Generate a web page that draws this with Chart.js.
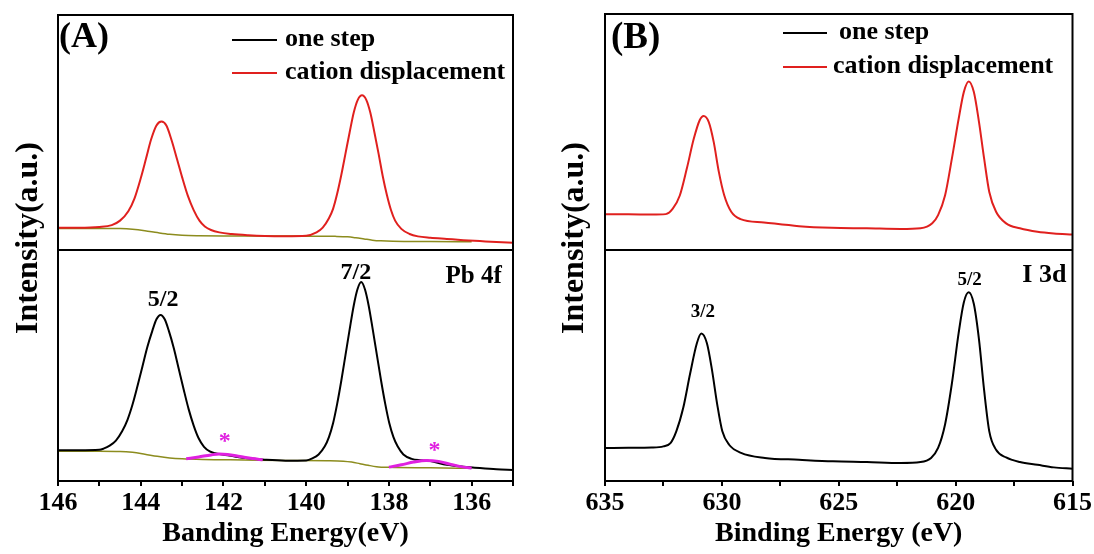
<!DOCTYPE html>
<html>
<head>
<meta charset="utf-8">
<script src="https://cdn.jsdelivr.net/npm/chart.js@4.4.1/dist/chart.umd.min.js"></script>
<style>
  html, body { margin: 0; padding: 0; background: #fff; }
  .panel { position: absolute; top: 0; width: 547px; height: 554px; }
  #panelA { left: 0; }
  #panelB { left: 547px; }
</style>
</head>
<body>
<div class="panel" id="panelA"><canvas id="chartA"></canvas></div>
<div class="panel" id="panelB"><canvas id="chartB"></canvas></div>
<script>
// ---- Pb 4f, cation displacement (top, red) ----
const pbCationX = [146.0, 145.5, 145.0, 144.7, 144.5, 144.3, 144.15, 144.0, 143.87, 143.75, 143.62, 143.5, 143.38, 143.25, 143.12, 143.0, 142.86, 142.72, 142.58, 142.45, 142.3, 142.1, 141.8, 141.4, 141.0, 140.5, 140.0, 139.75, 139.6, 139.45, 139.35, 139.25, 139.15, 139.05, 138.95, 138.85, 138.75, 138.65, 138.55, 138.45, 138.35, 138.25, 138.15, 138.05, 137.95, 137.85, 137.7, 137.5, 137.3, 137.0, 136.6, 136.2, 135.8, 135.4, 135.0];
const pbCationY = [9.5, 9.5, 9.8, 10.6, 12.5, 16.5, 22, 30.5, 39, 47, 53, 54.7, 53, 46.5, 38.5, 31, 23, 17, 12.5, 10, 8.5, 7.5, 6.8, 6.3, 6.0, 5.9, 6.1, 7.5, 9.5, 13.5, 17.5, 24, 32, 41, 50, 58.5, 64, 65.8, 64, 58.5, 50, 41, 31.5, 23.5, 17, 12.5, 9, 6.8, 5.8, 5.2, 4.7, 4.2, 3.8, 3.4, 3.1];
const pbCationBgX = [146.0, 145.0, 144.5, 144.2, 143.9, 143.6, 143.3, 143.0, 142.6, 142.0, 141.0, 140.0, 139.3, 139.0, 138.8, 138.6, 138.4, 138.2, 137.9, 137.0, 136.0];
const pbCationBgY = [9.2, 9.2, 9.1, 8.8, 8.2, 7.4, 6.7, 6.3, 6.1, 6.0, 6.0, 5.9, 5.8, 5.6, 5.2, 4.7, 4.2, 3.9, 3.7, 3.6, 3.5];

// ---- Pb 4f, one step (bottom, black) ----
const pbOneStepX = [146.0, 145.5, 145.0, 144.9, 144.75, 144.6, 144.45, 144.32, 144.2, 144.08, 143.96, 143.84, 143.72, 143.62, 143.52, 143.42, 143.32, 143.2, 143.08, 142.96, 142.84, 142.72, 142.6, 142.47, 142.33, 142.2, 142.0, 141.7, 141.4, 141.0, 140.5, 140.0, 139.85, 139.7, 139.55, 139.45, 139.35, 139.25, 139.15, 139.05, 138.95, 138.85, 138.76, 138.67, 138.58, 138.49, 138.39, 138.29, 138.19, 138.09, 137.99, 137.89, 137.79, 137.65, 137.45, 137.2, 137.0, 136.6, 136.2, 135.8, 135.4, 135.0];
const pbOneStepY = [13.3, 13.3, 13.5, 14.0, 15.3, 17.5, 21.5, 26.5, 33, 41, 49.5, 58, 65, 70, 71.9, 70, 65, 57.5, 48.5, 39.5, 31, 24, 18.5, 14.8, 12.8, 12.0, 11.4, 10.5, 9.8, 9.2, 8.8, 8.9, 9.8, 11.5, 15, 19, 25, 33.5, 43.5, 54.5, 65.5, 76, 83, 86.1, 83, 76, 65.5, 54.5, 43.5, 33.5, 25, 19, 15, 11.5, 9.6, 9.0, 8.6, 7.0, 6.2, 5.6, 5.1, 4.8];
const pbOneStepBgX = [146.0, 145.0, 144.5, 144.2, 143.9, 143.6, 143.3, 143.0, 142.5, 141.5, 140.5, 139.5, 139.1, 138.9, 138.7, 138.5, 138.3, 138.0, 137.0, 136.0];
const pbOneStepBgY = [12.9, 12.9, 12.8, 12.4, 11.6, 10.7, 10.0, 9.6, 9.3, 9.1, 8.9, 8.8, 8.6, 8.2, 7.5, 6.8, 6.2, 5.9, 5.7, 5.5];
const pbSat1X = [142.9, 142.6, 142.3, 142.1, 141.9, 141.6, 141.3, 141.05];
const pbSat1Y = [9.6, 10.4, 11.3, 11.7, 11.5, 10.6, 9.7, 9.2];
const pbSat2X = [138.0, 137.7, 137.4, 137.1, 136.8, 136.5, 136.2, 136.0];
const pbSat2Y = [6.0, 7.0, 8.2, 8.9, 8.5, 7.2, 6.0, 5.6];

// ---- I 3d ----
const iCationX = [635.0, 634.0, 633.0, 632.4, 632.1, 631.8, 631.5, 631.2, 630.95, 630.78, 630.56, 630.35, 630.13, 629.9, 629.6, 629.2, 628.2, 626.7, 625.3, 623.8, 622.35, 621.5, 621.0, 620.75, 620.45, 620.16, 619.87, 619.65, 619.44, 619.22, 619.0, 618.78, 618.56, 618.27, 617.84, 617.25, 616.5, 615.8, 615.0];
const iCationY = [15.1, 15.1, 15.0, 15.2, 17.5, 23.1, 34.5, 47.2, 55, 56.8, 54.2, 45.8, 33.1, 23.2, 16.2, 13.1, 11.7, 10.1, 9.4, 9.2, 8.9, 9.2, 11.3, 14.8, 23.2, 38.7, 55.6, 66.9, 71.4, 66.9, 54.2, 38.7, 24.6, 16.2, 11.3, 9.2, 7.7, 7.0, 6.6];
const iOneStepX = [635.0, 634.0, 633.0, 632.5, 632.2, 631.95, 631.65, 631.36, 631.07, 630.88, 630.64, 630.42, 630.2, 629.98, 629.69, 629.18, 628.16, 626.7, 625.25, 623.8, 622.35, 621.5, 621.05, 620.75, 620.45, 620.16, 619.87, 619.65, 619.44, 619.22, 619.0, 618.78, 618.56, 618.27, 617.84, 617.25, 616.5, 615.8, 615.0];
const iOneStepY = [14.3, 14.4, 14.5, 15.0, 16.4, 21.5, 31.8, 46.4, 59.6, 63.8, 59.6, 47.9, 33.2, 21.5, 15.7, 12.2, 10.0, 9.2, 8.5, 8.2, 7.8, 8.2, 10.0, 14.3, 24.6, 42.2, 64.1, 77.3, 81.7, 76.6, 61.2, 39.2, 21.5, 13.5, 10.2, 8.2, 7.0, 5.9, 5.3];

// annotations in the bottom plots (data coordinates)
const pbNoteText = ['5/2', '7/2', 'Pb 4f', '*', '*'];
const pbNoteX = [143.46, 138.8, 135.27, 141.97, 136.9];
const pbNoteY = [78.5, 90, 88.7, 19, 15.2];
const iNoteText = ['3/2', '5/2', 'I 3d'];
const iNoteX = [630.81, 619.4, 615.26];
const iNoteY = [73.2, 87, 89.2];

const legendLabels = ['one step', 'cation displacement'];

const SERIF = '"Liberation Serif", "Times New Roman", serif';
const RED = '#e0201e';
const OLIVE = '#8c8c1e';
const MAGENTA = '#e020e0';

function pts(xs, ys) {
    return xs.map((x, i) => ({ x: x, y: ys[i] }));
}

function line(xs, ys, color, yAxis, width) {
    return {
        data: pts(xs, ys),
        yAxisID: yAxis,
        borderColor: color,
        borderWidth: width,
        pointRadius: 0,
        fill: false,
        cubicInterpolationMode: 'monotone'
    };
}

// box, divider, legend, panel letter, y title and peak labels
const framePlugin = {
    id: 'frame',
    afterDraw(chart, args, o) {
        const ctx = chart.ctx;
        const a = chart.chartArea;
        const split = chart.scales.yt.bottom;
        ctx.save();
        ctx.strokeStyle = '#000';
        ctx.lineWidth = 2;
        ctx.strokeRect(a.left, a.top, a.right - a.left, a.bottom - a.top);
        ctx.beginPath();
        ctx.moveTo(a.left, split);
        ctx.lineTo(a.right, split);
        ctx.stroke();

        // panel letter
        ctx.fillStyle = '#000';
        ctx.textBaseline = 'middle';
        ctx.textAlign = 'left';
        ctx.font = 'bold ' + o.letterSize + 'px ' + SERIF;
        ctx.fillText(o.letter, a.left + o.letterDx, 38);

        // legend
        ctx.font = 'bold 26px ' + SERIF;
        legendLabels.forEach((lab, i) => {
            ctx.strokeStyle = i === 0 ? '#000' : RED;
            ctx.lineWidth = 2;
            ctx.beginPath();
            ctx.moveTo(a.left + o.legLine[0], o.legY[i]);
            ctx.lineTo(a.left + o.legLine[1], o.legY[i]);
            ctx.stroke();
            ctx.fillStyle = '#000';
            ctx.fillText(lab, a.left + o.legText[i], o.legY[i] - 1);
        });

        // y title
        ctx.save();
        ctx.translate(o.yTitleX, 238);
        ctx.rotate(-Math.PI / 2);
        ctx.textAlign = 'center';
        ctx.font = 'bold 32px ' + SERIF;
        ctx.fillText('Intensity(a.u.)', 0, 0);
        ctx.restore();

        // notes in bottom plot
        const xs = chart.scales.x, ys = chart.scales.yb;
        o.noteText.forEach((t, i) => {
            const st = o.noteStyle[i];
            ctx.font = 'bold ' + st.size + 'px ' + SERIF;
            ctx.fillStyle = st.color;
            ctx.textAlign = st.align;
            ctx.fillText(t, xs.getPixelForValue(o.noteX[i]), ys.getPixelForValue(o.noteY[i]) + (st.dy || 0));
        });
        ctx.restore();
    }
};

function makeChart(id, cfg) {
    const tickFont = { family: SERIF, size: 26, weight: 'bold' };
    const hiddenY = (weight) => ({
        type: 'linear', min: 0, max: 100, position: 'left',
        stack: 'panel', stackWeight: weight,
        ticks: { display: false },
        grid: { display: false, drawTicks: false },
        border: { display: false },
        afterFit: (s) => { s.width = 0; }
    });
    return new Chart(document.getElementById(id), {
        type: 'line',
        data: { datasets: cfg.datasets },
        options: {
            responsive: true,
            maintainAspectRatio: false,
            animation: false,
            layout: { padding: cfg.padding },
            plugins: {
                legend: { display: false },
                tooltip: { enabled: false },
                frame: cfg.frame
            },
            scales: {
                x: {
                    type: 'linear', min: cfg.xMin, max: cfg.xMax, reverse: true,
                    ticks: {
                        stepSize: cfg.step, autoSkip: false, maxRotation: 0,
                        color: '#000', font: tickFont, padding: 2,
                        callback: (v) => (Math.abs(v % cfg.labelEvery) < 1e-6 ? v : '')
                    },
                    grid: { drawOnChartArea: false, drawTicks: true, tickLength: 5, lineWidth: 2, color: '#000' },
                    border: { display: false },
                    title: {
                        display: true, text: cfg.xTitle, color: '#000',
                        font: { family: SERIF, size: 28, weight: 'bold' },
                        padding: { top: 0, bottom: 3 }
                    },
                    afterFit: (s) => { s.height = 73; }
                },
                yb: hiddenY(231),
                yt: hiddenY(cfg.topWeight)
            }
        },
        plugins: [framePlugin]
    });
}

makeChart('chartA', {
    xMin: 135, xMax: 146, step: 1, labelEvery: 2,
    xTitle: 'Banding Energy(eV)',
    padding: { left: 58, right: 34, top: 15, bottom: 0 },
    topWeight: 235,
    datasets: [
        line(pbCationX, pbCationY, RED, 'yt', 2),
        line(pbCationBgX, pbCationBgY, OLIVE, 'yt', 1.5),
        line(pbSat1X, pbSat1Y, MAGENTA, 'yb', 3),
        line(pbSat2X, pbSat2Y, MAGENTA, 'yb', 3),
        line(pbOneStepX, pbOneStepY, '#000', 'yb', 2),
        line(pbOneStepBgX, pbOneStepBgY, OLIVE, 'yb', 1.5)
    ],
    frame: {
        letter: '(A)', letterSize: 36, letterDx: 1,
        legLine: [174, 219], legText: [227, 227], legY: [40, 73],
        yTitleX: 29,
        noteText: pbNoteText, noteX: pbNoteX, noteY: pbNoteY,
        noteStyle: [
            { size: 24, color: '#000', align: 'center' },
            { size: 24, color: '#000', align: 'center' },
            { size: 25, color: '#000', align: 'right' },
            { size: 24, color: MAGENTA, align: 'center', dy: 5 },
            { size: 24, color: MAGENTA, align: 'center', dy: 5 }
        ]
    }
});

makeChart('chartB', {
    xMin: 615, xMax: 635, step: 2.5, labelEvery: 5,
    xTitle: 'Binding Energy (eV)',
    padding: { left: 58, right: 21, top: 14, bottom: 0 },
    topWeight: 236,
    datasets: [
        line(iCationX, iCationY, RED, 'yt', 2),
        line(iOneStepX, iOneStepY, '#000', 'yb', 2)
    ],
    frame: {
        letter: '(B)', letterSize: 37, letterDx: 6,
        legLine: [178, 222], legText: [234, 228], legY: [33, 67],
        yTitleX: 28,
        noteText: iNoteText, noteX: iNoteX, noteY: iNoteY,
        noteStyle: [
            { size: 19, color: '#000', align: 'center' },
            { size: 19, color: '#000', align: 'center' },
            { size: 26, color: '#000', align: 'right' }
        ]
    }
});
</script>
</body>
</html>
